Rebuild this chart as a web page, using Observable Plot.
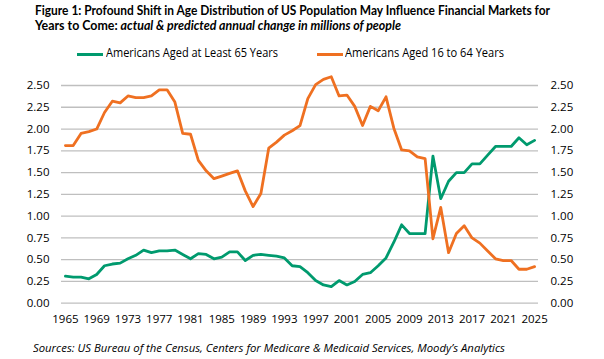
<!DOCTYPE html>
<html><head><meta charset="utf-8">
<script src="https://cdn.jsdelivr.net/npm/d3@7"></script>
<script src="https://cdn.jsdelivr.net/npm/@observablehq/plot@0.6"></script>
<style>
body{margin:0;background:#fff;font-family:"Open Sans",sans-serif;color:#000;}
#wrap{position:relative;width:604px;height:359px;overflow:hidden;background:#fff;}
.fit{position:absolute;white-space:nowrap;line-height:1;transform-origin:0 0;}
.ttl{font-family:Lato,"Open Sans",sans-serif;font-size:12.6px;font-weight:700;}
.sw{position:absolute;height:3px;width:27px;}
#chart{position:absolute;left:0;top:70px;}
</style></head><body>
<div id="wrap">
<div class="fit ttl" data-w="515" style="left:35px;top:5px">Figure 1: Profound Shift in Age Distribution of US Population May Influence Financial Markets for</div>
<div class="fit ttl" data-w="366" style="left:35px;top:20.4px">Years to Come: <i>actual &amp; predicted annual change in millions of people</i></div>
<div class="sw" id="sw1" style="left:77.3px;top:52.5px;width:26px"></div>
<div class="fit" id="lg1" data-w="172" style="left:106px;top:46.6px;font-size:12px"></div>
<div class="sw" id="sw2" style="left:316.7px;top:52.5px;width:26.6px"></div>
<div class="fit" id="lg2" data-w="159" style="left:345px;top:46.6px;font-size:12px"></div>
<div id="chart"></div>
<div class="fit" data-w="472" style="left:33px;top:342.2px;font-size:11px;font-style:italic">Sources: US Bureau of the Census, Centers for Medicare &amp; Medicaid Services, Moody’s Analytics</div>
</div>
<script>
const years = [1965,1966,1967,1968,1969,1970,1971,1972,1973,1974,
  1975,1976,1977,1978,1979,1980,1981,1982,1983,1984,
  1985,1986,1987,1988,1989,1990,1991,1992,1993,1994,
  1995,1996,1997,1998,1999,2000,2001,2002,2003,2004,
  2005,2006,2007,2008,2009,2010,2011,2012,2013,2014,
  2015,2016,2017,2018,2019,2020,2021,2022,2023,2024,2025];
const aged65 = [0.31,0.30,0.30,0.28,0.33,0.43,0.45,0.46,0.51,0.55,
  0.61,0.58,0.60,0.60,0.61,0.56,0.51,0.57,0.56,0.51,
  0.53,0.59,0.59,0.49,0.55,0.56,0.55,0.54,0.52,0.43,
  0.42,0.35,0.26,0.21,0.19,0.26,0.21,0.25,0.33,0.35,
  0.43,0.52,0.70,0.90,0.80,0.80,0.80,1.69,1.20,1.40,
  1.50,1.50,1.60,1.60,1.70,1.80,1.80,1.80,1.90,1.82,1.87];
const aged16to64 = [1.81,1.81,1.95,1.97,2.00,2.19,2.32,2.30,2.38,2.36,
  2.36,2.38,2.45,2.45,2.31,1.95,1.94,1.64,1.52,1.43,
  1.46,1.49,1.52,1.29,1.11,1.26,1.78,1.85,1.93,1.98,
  2.04,2.35,2.51,2.57,2.60,2.38,2.39,2.26,2.04,2.26,
  2.21,2.37,2.01,1.76,1.75,1.68,1.66,0.74,1.10,0.58,
  0.80,0.89,0.75,0.69,0.60,0.51,0.49,0.49,0.39,0.39,0.42];
const seriesNames = ["Americans Aged at Least 65 Years", "Americans Aged 16 to 64 Years"];
const seriesColors = ["#009a6e", "#ef7021"];
const yTicks = [0, 0.25, 0.5, 0.75, 1, 1.25, 1.5, 1.75, 2, 2.25, 2.5];
const xTicks = [1965,1969,1973,1977,1981,1985,1989,1993,1997,2001,2005,2009,2013,2017,2021,2025];

document.getElementById("sw1").style.background = seriesColors[0];
document.getElementById("sw2").style.background = seriesColors[1];
document.getElementById("lg1").textContent = seriesNames[0];
document.getElementById("lg2").textContent = seriesNames[1];

const data = years.map((y, i) => ({year: y, a65: aged65[i], a1664: aged16to64[i]}));
const fmt = d3.format(".2f");

const chart = Plot.plot({
  width: 604, height: 260,
  marginLeft: 61, marginRight: 66, marginTop: 15, marginBottom: 27.3,
  style: {fontFamily: '"Open Sans", sans-serif', fontSize: "11.5px", color: "#000", background: "transparent", overflow: "visible"},
  x: {type: "linear", domain: [1964.5, 2025.5]},
  y: {domain: [0, 2.5]},
  marks: [
    Plot.gridY(yTicks, {stroke: "#bfbfbf", strokeOpacity: 1, strokeWidth: 1.3}),
    Plot.axisY(yTicks, {anchor: "left", tickSize: 0, tickPadding: 12, tickFormat: fmt, label: null}),
    Plot.axisY(yTicks, {anchor: "right", tickSize: 0, tickPadding: 12, tickFormat: fmt, label: null}),
    Plot.axisX(xTicks, {anchor: "bottom", tickSize: 0, tickPadding: 12, tickFormat: d => String(d), label: null}),
    Plot.lineY(data, {x: "year", y: "a65", stroke: seriesColors[0], strokeWidth: 2.8}),
    Plot.lineY(data, {x: "year", y: "a1664", stroke: seriesColors[1], strokeWidth: 2.8})
  ]
});
document.getElementById("chart").appendChild(chart);

function fitAll() {
  document.querySelectorAll(".fit").forEach(el => {
    el.style.transform = "none";
    const w = el.getBoundingClientRect().width;
    const t = +el.dataset.w;
    if (w > 0) el.style.transform = `scaleX(${t / w})`;
  });
}
fitAll();
if (document.fonts && document.fonts.ready) document.fonts.ready.then(fitAll);
</script>
</body></html>
